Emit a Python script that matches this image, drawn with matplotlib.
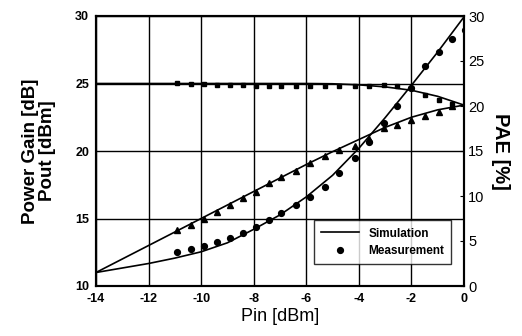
import numpy as np
import matplotlib
matplotlib.use("Agg")
import matplotlib.pyplot as plt

plt.rcParams['font.family'] = ['Liberation Sans', 'DejaVu Sans']

# Simulation curves (read at integer Pin)
pin_sim = [-14, -13, -12, -11, -10, -9, -8, -7, -6, -5, -4, -3, -2, -1, 0]
gain_sim = [25.0, 25.0, 25.0, 25.0, 25.0, 25.0, 25.0, 25.0, 25.0, 24.98, 24.9, 24.75, 24.5, 24.05, 23.4]
pout_sim = [11.0, 12.0, 13.0, 14.0, 15.0, 16.0, 17.0, 18.0, 19.0, 19.95, 20.85, 21.75, 22.5, 23.05, 23.4]
pae_sim = [1.5, 2.0, 2.5, 3.1, 3.8, 4.8, 6.3, 7.9, 9.9, 12.3, 15.3, 18.7, 22.3, 26.0, 29.9]

# Measurements
pin_meas = [-10.9, -10.4, -9.9, -9.4, -8.9, -8.4, -7.9, -7.4, -6.95, -6.4, -5.85,
            -5.3, -4.75, -4.15, -3.6, -3.05, -2.55, -2.0, -1.5, -0.95, -0.45, 0.05]
gain_meas = [25.05, 24.95, 24.95, 24.9, 24.9, 24.9, 24.85, 24.85, 24.85, 24.8, 24.8,
             24.85, 24.8, 24.8, 24.85, 24.9, 24.8, 24.7, 24.15, 23.8, 23.5]
pout_meas = [14.15, 14.5, 15.0, 15.5, 16.0, 16.5, 17.0, 17.6, 18.1, 18.5, 19.1,
             19.6, 20.1, 20.4, 20.9, 21.7, 21.9, 22.3, 22.6, 22.9, 23.3]
pae_meas = [3.8, 4.1, 4.4, 4.9, 5.3, 5.9, 6.6, 7.3, 8.1, 9.0, 9.9,
            11.0, 12.6, 14.2, 16.0, 18.1, 20.0, 22.0, 24.4, 26.0, 27.4, 28.5]

fig = plt.figure(figsize=(5.22, 3.36), dpi=100)
ax = fig.add_axes([96 / 522, 50 / 336, 368 / 522, 270 / 336])
ax2 = ax.twinx()

tick_font = dict(fontsize=9, fontweight='bold')

ax.plot(pin_sim, gain_sim, color='black', lw=1.2)
ax.plot(pin_sim, pout_sim, color='black', lw=1.2)
ax.plot(pin_meas[:len(gain_meas)], gain_meas, 's', color='black', ms=3.2)
ax.plot(pin_meas[:len(pout_meas)], pout_meas, '^', color='black', ms=4.2)

ax2.plot(pin_sim, pae_sim, color='black', lw=1.2, label='Simulation')
ax2.plot(pin_meas, pae_meas, 'o', color='black', ms=4.2, label='Measurement')

ax.set_xlim(-14, 0)
ax.set_ylim(10, 30)
ax2.set_ylim(0, 30)

ax.set_xticks(range(-14, 1, 2))
ax.set_yticks([10, 15, 20, 25, 30])
ax2.set_yticks([0, 5, 10, 15, 20, 25, 30])
ax.set_xticklabels([str(v) for v in range(-14, 1, 2)], **tick_font)
ax.set_yticklabels(['10', '15', '20', '25', '30'], **tick_font)
ax2.set_yticklabels(['0', '5', '10', '15', '20', '25', '30'], fontsize=10.5)

ax.grid(True, color='black', lw=1.0)
ax.tick_params(axis='both', length=0, pad=5)
ax2.tick_params(axis='y', direction='in', length=3, pad=3)

for a in (ax, ax2):
    for s in a.spines.values():
        s.set_linewidth(1.5)

ax.set_xlabel('Pin [dBm]', fontsize=13, labelpad=2)
ax.set_ylabel('Power Gain [dB]\nPout [dBm]', fontsize=13.5, fontweight='bold',
              labelpad=14, linespacing=1.0)
ax2.set_ylabel('PAE [%]', fontsize=14.5, fontweight='bold', rotation=-90, labelpad=18)

leg = ax2.legend(loc='lower right', bbox_to_anchor=(0.982, 0.06),
                 prop={'weight': 'bold', 'size': 8.5}, frameon=True, fancybox=False,
                 edgecolor='black', handlelength=3.2, borderpad=0.6, labelspacing=0.45)
leg.get_frame().set_linewidth(1.0)

fig.savefig('out.png', dpi=100)
